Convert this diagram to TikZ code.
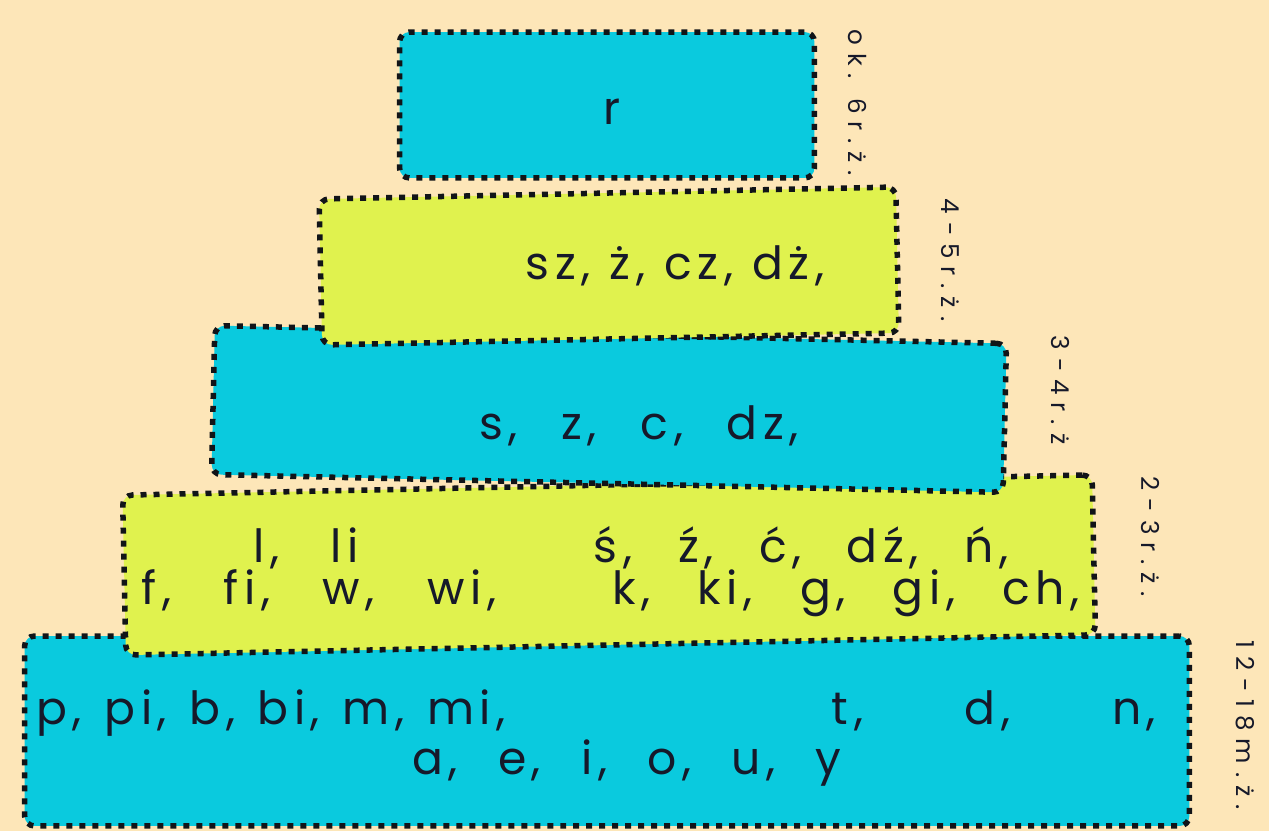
\documentclass[tikz,border=0pt]{standalone}
\usepackage{fontspec}
\setmainfont{Poppins}
\definecolor{bgc}{HTML}{FDE6B8}
\definecolor{cyanc}{HTML}{0ACADE}
\definecolor{limec}{HTML}{E0F24E}
\definecolor{dotc}{HTML}{111418}
\definecolor{inkc}{HTML}{16192A}
\begin{document}
\begin{tikzpicture}[x=0.02cm,y=-0.02cm,
  box/.style={draw=dotc, line width=0.11cm, dash pattern=on 0.12cm off 0.14cm, rounded corners=0.2cm, inner sep=0pt},
  cyanbox/.style={box, fill=cyanc},
  limebox/.style={box, fill=limec},
  txt/.style={text=inkc, font=\fontsize{26}{30}\selectfont\addfontfeature{LetterSpace=12}, anchor=mid, inner sep=0pt},
  age/.style={text=inkc, font=\fontsize{14}{16}\selectfont\addfontfeature{LetterSpace=32}, rotate=-90, inner sep=0pt}]
\useasboundingbox (0,0) rectangle (1269,831);
\fill[bgc] (0,0) rectangle (1269,831);
% boxes, bottom first
\node[cyanbox, minimum width=23.30cm, minimum height=3.80cm] (b5) at (607,731) {};
\node[limebox, minimum width=19.40cm, minimum height=3.20cm, rotate=1.2] (b4) at (609,565) {};
\node[cyanbox, minimum width=15.84cm, minimum height=2.98cm, rotate=-1.3] (b3) at (609,409) {};
\node[limebox, minimum width=11.54cm, minimum height=2.92cm, rotate=1.2] (b2) at (609,266) {};
\node[cyanbox, minimum width=8.30cm, minimum height=2.92cm] (b1) at (607,105) {};
% texts
\node[txt] (t1) at (612,120) {r};
\node[txt] (t2) at (675,275) {\spaceskip=11pt\relax sz, ż, cz, dż,};
\node[txt] (t3) at (639,435) {\spaceskip=25pt\relax s, z, c, dz,};
\node[txt] (t4a) at (306,558) {\spaceskip=29pt\relax l, li};
\node[txt] (t4b) at (801,558) {\spaceskip=26pt\relax ś, ź, ć, dź, ń,};
\node[txt] (t4c) at (319,600) {\spaceskip=30pt\relax f, fi, w, wi,};
\node[txt] (t4d) at (846,600) {\spaceskip=27pt\relax k, ki, g, gi, ch,};
\node[txt] (t5a) at (271,720) {\spaceskip=13pt\relax p, pi, b, bi, m, mi,};
\node[txt] (t5b) at (994,720) {\spaceskip=58pt\relax t, d, n,};
\node[txt] (t5c) at (627,770) {\spaceskip=23pt\relax a, e, i, o, u, y};
% age labels
\node[age] (a1) at (857,103) {ok. 6r.ż.};
\node[age] (a2) at (950,260) {4-5r.ż.};
\node[age] (a3) at (1060,390) {3-4r.ż};
\node[age] (a4) at (1150,537) {2-3r.ż.};
\node[age] (a5) at (1245,725) {12-18m.ż.};
\end{tikzpicture}
\end{document}
